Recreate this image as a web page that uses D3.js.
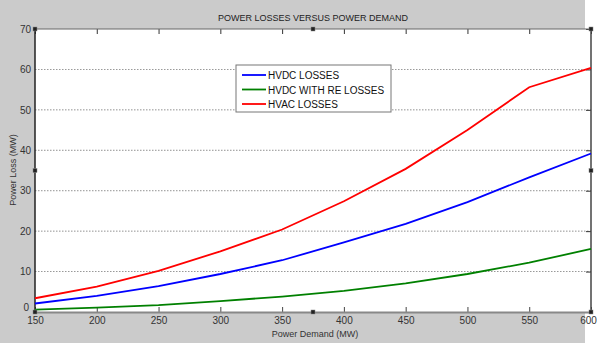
<!DOCTYPE html>
<html><head><meta charset="utf-8">
<script src="https://cdn.jsdelivr.net/npm/d3@7"></script>
<style>html,body{margin:0;padding:0;background:#fff;}svg{display:block;}</style>
</head><body>
<svg id="c" width="597" height="343"></svg>
<script>
const demand = [150, 200, 250, 300, 350, 400, 450, 500, 550, 600];
const hvdc = [2.1, 4.0, 6.4, 9.4, 12.8, 17.2, 21.8, 27.2, 33.3, 39.2];
const hvdcRE = [0.6, 1.1, 1.7, 2.7, 3.8, 5.2, 7.1, 9.4, 12.2, 15.6];
const hvac = [3.4, 6.3, 10.2, 15.0, 20.4, 27.4, 35.4, 45.0, 55.6, 60.4];
const seriesNames = ["HVDC LOSSES", "HVDC WITH RE LOSSES", "HVAC LOSSES"];
const seriesColors = ["#0000ff", "#008000", "#ff0000"];
const xTicks = [150, 200, 250, 300, 350, 400, 450, 500, 550, 600];
const yTicks = [0, 10, 20, 30, 40, 50, 60, 70];

const svg = d3.select("#c");
const W = 597, H = 343;
const m = {l: 35, r: 6, t: 29, b: 31};
svg.append("rect").attr("width", 585).attr("height", H).attr("fill", "#cbcbcb");
svg.append("rect").attr("x", 585).attr("width", 12).attr("height", H).attr("fill", "#ffffff");

const x = d3.scaleLinear().domain([150, 600]).range([m.l, 591]);
const y = d3.scaleLinear().domain([0, 70]).range([312, m.t]);

svg.append("rect").attr("x", x(150)).attr("y", y(70)).attr("width", x(600) - x(150)).attr("height", y(0) - y(70)).attr("fill", "#fff");

// grid
svg.append("g").selectAll("line").data(yTicks.filter(d => d > 0 && d < 70)).join("line")
  .attr("x1", x(150)).attr("x2", x(600)).attr("y1", d => y(d)).attr("y2", d => y(d))
  .attr("stroke", "#555").attr("stroke-width", 0.8).attr("stroke-dasharray", "1.5,1.5").attr("opacity", 0.8);

const font = "Arial, 'Liberation Sans', sans-serif";
// axes
const xb = svg.append("g").attr("transform", `translate(0,${y(0)})`)
  .call(d3.axisBottom(x).tickValues(xTicks).tickSize(-5).tickPadding(5).tickFormat(d3.format("d")));
const xt = svg.append("g").attr("transform", `translate(0,${y(70)})`)
  .call(d3.axisTop(x).tickValues(xTicks).tickSize(-5).tickFormat(""));
const yl = svg.append("g").attr("transform", `translate(${x(150)},0)`)
  .call(d3.axisLeft(y).tickValues(yTicks).tickSize(0).tickPadding(4).tickFormat(d3.format("d")));
const yr = svg.append("g").attr("transform", `translate(${x(600)},0)`)
  .call(d3.axisRight(y).tickValues(yTicks).tickSize(-5).tickFormat(""));
[xb, xt, yl, yr].forEach(g => {
  g.select(".domain").remove();
  g.selectAll(".tick line").attr("stroke", "#333");
  g.selectAll("text").attr("font-family", font).attr("font-size", 10).attr("fill", "#333");
});
xb.selectAll(".tick line").attr("stroke", "#444");
xb.selectAll(".tick text").filter(d => d === 600).attr("dx", -3);
yl.selectAll(".tick text").filter(d => d === 0).attr("dy", "-0.2em").attr("x", -6);

// frame
svg.append("line").attr("x1", x(150)).attr("x2", x(600)).attr("y1", y(70)).attr("y2", y(70)).attr("stroke", "#666").attr("stroke-width", 1);
svg.append("line").attr("x1", x(150)).attr("x2", x(600)).attr("y1", y(0) + 0.5).attr("y2", y(0) + 0.5).attr("stroke", "#888").attr("stroke-width", 2);
svg.append("line").attr("x1", x(150)).attr("x2", x(150)).attr("y1", y(70)).attr("y2", y(0)).attr("stroke", "#222").attr("stroke-width", 1.5);
svg.append("line").attr("x1", x(600)).attr("x2", x(600)).attr("y1", y(70)).attr("y2", y(0)).attr("stroke", "#444").attr("stroke-width", 1.5);

// lines
const data = [hvdc, hvdcRE, hvac];
const line = d3.line().x((d, i) => x(demand[i])).y(d => y(d));
data.forEach((s, k) => {
  svg.append("path").datum(s).attr("d", line).attr("fill", "none")
    .attr("stroke", seriesColors[k]).attr("stroke-width", 1.8);
});

// selection handles
const handles = [[x(150), y(70)], [x(375), y(70)], [x(600), y(70)], [x(150), y(35)], [x(600), y(35)], [x(150), y(0)], [x(375), y(0)], [x(600), y(0)]];
svg.append("g").selectAll("rect").data(handles).join("rect")
  .attr("x", d => d[0] - 2).attr("y", d => d[1] - 2).attr("width", 4).attr("height", 4)
  .attr("fill", "#222").attr("stroke", "#888").attr("stroke-width", 0.5);

// title & labels
svg.append("text").attr("x", 313).attr("y", 21).attr("text-anchor", "middle")
  .attr("font-family", font).attr("font-size", 9).attr("fill", "#222").text("POWER LOSSES VERSUS POWER DEMAND");
svg.append("text").attr("x", 315).attr("y", 337).attr("text-anchor", "middle")
  .attr("font-family", font).attr("font-size", 9).attr("fill", "#333").text("Power Demand (MW)");
svg.append("text").attr("transform", "translate(16,170) rotate(-90)").attr("text-anchor", "middle")
  .attr("font-family", font).attr("font-size", 9).attr("fill", "#333").text("Power Loss (MW)");

// legend
const lg = svg.append("g").attr("transform", "translate(236,65)");
lg.append("rect").attr("width", 155).attr("height", 47).attr("fill", "#fff").attr("stroke", "#777").attr("stroke-width", 1);
seriesNames.forEach((n, i) => {
  const yy = 10 + i * 14.5;
  lg.append("line").attr("x1", 6).attr("x2", 30).attr("y1", yy).attr("y2", yy).attr("stroke", seriesColors[i]).attr("stroke-width", 1.8);
  lg.append("text").attr("x", 32).attr("y", yy + 4).attr("font-family", font).attr("font-size", 10).attr("fill", "#111").text(n);
});
</script>
</body></html>
